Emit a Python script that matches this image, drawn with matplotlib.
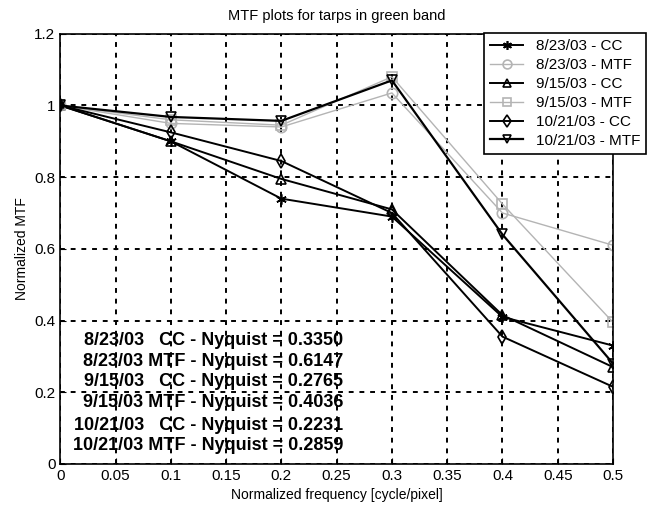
import matplotlib
matplotlib.use("Agg")
import matplotlib.pyplot as plt

plt.rcParams['font.family'] = ['Liberation Sans', 'DejaVu Sans']

freq = [0.0, 0.1, 0.2, 0.3, 0.4, 0.5]
cc_0823 = [1.0, 0.90, 0.74, 0.69, 0.41, 0.33]
mtf_0823 = [1.0, 0.95, 0.94, 1.035, 0.70, 0.61]
cc_0915 = [1.0, 0.90, 0.795, 0.71, 0.415, 0.27]
mtf_0915 = [1.0, 0.96, 0.945, 1.08, 0.725, 0.395]
cc_1021 = [1.0, 0.925, 0.845, 0.70, 0.355, 0.215]
mtf_1021 = [1.0, 0.968, 0.957, 1.07, 0.64, 0.28]

labels = ['8/23/03 - CC', '8/23/03 - MTF', '9/15/03 - CC',
          '9/15/03 - MTF', '10/21/03 - CC', '10/21/03 - MTF']
nyquist_lines = [
    '8/23/03   CC - Nyquist = 0.3350',
    '8/23/03 MTF - Nyquist = 0.6147',
    '9/15/03   CC - Nyquist = 0.2765',
    '9/15/03 MTF - Nyquist = 0.4036',
    '10/21/03   CC - Nyquist = 0.2231',
    '10/21/03 MTF - Nyquist = 0.2859',
]

fig = plt.figure(figsize=(6.48, 5.12), dpi=100)
ax = fig.add_axes([0.093, 0.094, 0.853, 0.840])

series = [cc_0823, mtf_0823, cc_0915, mtf_0915, cc_1021, mtf_1021]
markers = [(6, 2, 0), 'o', '^', 's', 'd', 'v']
colors = ['black', '#b4b4b4', 'black', '#b4b4b4', 'black', 'black']
lws = [1.4, 1.0, 1.4, 1.0, 1.4, 1.6]
for s, m, c, lw, lab in zip(series, markers, colors, lws, labels):
    ax.plot(freq, s, marker=m, color=c, lw=lw, markersize=7.5,
            markerfacecolor='none', markeredgecolor=c, markeredgewidth=1.2,
            label=lab)

ax.set_xlim(0, 0.5)
ax.set_ylim(0, 1.2)
ax.set_xticks([0, 0.05, 0.1, 0.15, 0.2, 0.25, 0.3, 0.35, 0.4, 0.45, 0.5])
ax.set_xticklabels(['0', '0.05', '0.1', '0.15', '0.2', '0.25', '0.3', '0.35', '0.4', '0.45', '0.5'])
ax.set_yticks([0, 0.2, 0.4, 0.6, 0.8, 1.0, 1.2])
ax.set_yticklabels(['0', '0.2', '0.4', '0.6', '0.8', '1', '1.2'])
ax.tick_params(direction='in', labelsize=11, length=4, top=False, right=False)
ax.grid(True, color='black', linestyle=(0, (2.5, 3)), linewidth=1.4)
for sp in ax.spines.values():
    sp.set_linewidth(1.2)

ax.set_title('MTF plots for tarps in green band', fontsize=10.5, pad=10)
ax.set_xlabel('Normalized frequency [cycle/pixel]', fontsize=10)
ax.set_ylabel('Normalized MTF', fontsize=10)

ys = [0.345, 0.287, 0.23, 0.17, 0.108, 0.052]
for t, y in zip(nyquist_lines, ys):
    ax.text(0.256, y, t, ha='right', va='center', fontsize=13,
            fontweight='bold')

leg = fig.legend(loc='upper right', bbox_to_anchor=(0.997, 0.935),
                 borderaxespad=0,
                 fontsize=11, frameon=True, fancybox=False, edgecolor='black',
                 handlelength=2.2, borderpad=0.4, labelspacing=0.32,
                 handletextpad=0.8, markerscale=0.85)
leg.get_frame().set_linewidth(1.2)
leg.get_frame().set_facecolor('white')
leg.get_frame().set_alpha(1)

fig.savefig('out.png', dpi=100)
